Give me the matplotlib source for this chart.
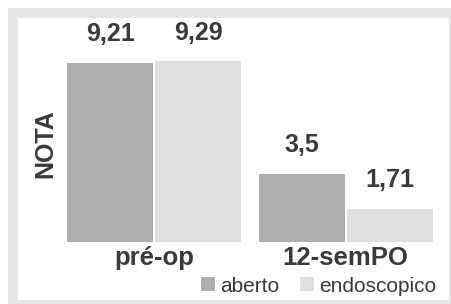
import matplotlib
matplotlib.use("Agg")
import matplotlib.pyplot as plt
from matplotlib.patches import Rectangle, Patch

categories = ["pré-op", "12-semPO"]
series_names = ["aberto", "endoscopico"]
aberto = [9.21, 3.5]
endoscopico = [9.29, 1.71]
value_labels_aberto = ["9,21", "3,5"]
value_labels_endo = ["9,29", "1,71"]

plt.rcParams['font.family'] = ['Liberation Sans', 'DejaVu Sans']
W, H = 452, 304
fig = plt.figure(figsize=(W / 100, H / 100), dpi=100)
fig.patch.set_facecolor('white')

# frame
fig.patches.append(Rectangle((8 / W, 0), (W - 8) / W, (H - 8) / H, transform=fig.transFigure,
                             facecolor='#e6e6e6', edgecolor='none', zorder=-2))
fig.patches.append(Rectangle((18 / W, 4 / H), (449 - 18) / W, (300 - 18) / H, transform=fig.transFigure,
                             facecolor='white', edgecolor='none', zorder=-1))

ax_l, ax_r = 67, 433
ax_b, ax_t = 242, 18
ax = fig.add_axes([ax_l / W, (H - ax_b) / H, (ax_r - ax_l) / W, (ax_b - ax_t) / H])
ax.patch.set_alpha(0)
ax.set_zorder(2)

c_ab = '#adadad'
c_en = '#e0e0e0'
txt = '#3a3a3a'
off = 0.23
w = 0.45
x = [0, 1]
b1 = ax.bar([i - off for i in x], aberto, width=w, color=c_ab, edgecolor='none')
b2 = ax.bar([i + off for i in x], endoscopico, width=w, color=c_en, edgecolor='none')

for bars, labs in ((b1, value_labels_aberto), (b2, value_labels_endo)):
    for r, lab in zip(bars, labs):
        ax.annotate(lab, (r.get_x() + r.get_width() / 2, r.get_height()),
                    xytext=(0, 20.5), textcoords='offset points', ha='center', va='center',
                    fontsize=18, fontweight='bold', color=txt)

ax.set_xlim(-0.455, 1.455)
ax.set_ylim(0, (ax_b - ax_t) / 19.45)
ax.set_xticks(x)
ax.set_xticklabels(categories, fontsize=18.5, fontweight='bold', color=txt)
ax.tick_params(axis='x', length=0, pad=3)
ax.set_yticks([])
for s in ax.spines.values():
    s.set_visible(False)

fig.text(45 / W, 1 - 144 / H, 'NOTA', rotation=90, ha='center', va='center',
         fontsize=18, fontweight='bold', color=txt)

handles = [Patch(facecolor=c_ab, edgecolor='none'), Patch(facecolor=c_en, edgecolor='none')]
fig.legend(handles, series_names, loc='center right', bbox_to_anchor=(436 / W, (H - 286) / H),
           ncol=2, frameon=False, fontsize=15, handlelength=0.65, handleheight=0.65,
           handletextpad=0.25, columnspacing=1.0, borderpad=0, borderaxespad=0,
           labelcolor=txt)

fig.savefig('out.png', dpi=100)
